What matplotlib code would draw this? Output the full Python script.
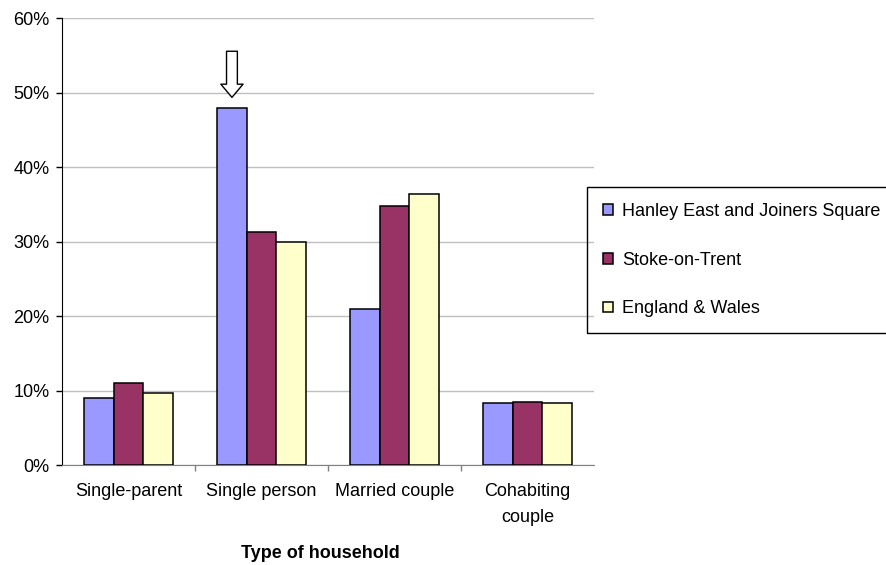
import numpy as np
import matplotlib; matplotlib.use("Agg")
import matplotlib.pyplot as plt
from matplotlib.patches import Rectangle
from matplotlib.ticker import PercentFormatter, FixedLocator

plt.rcParams["font.family"] = ["Liberation Sans", "DejaVu Sans"]

categories = ["Single-parent", "Single person", "Married couple", "Cohabiting\ncouple"]
series = ["Hanley East and Joiners Square", "Stoke-on-Trent", "England & Wales"]
hanley = [9.0, 48.0, 21.0, 8.3]
stoke = [11.0, 31.3, 34.8, 8.5]
england = [9.7, 30.0, 36.4, 8.3]
colors = ["#9999FF", "#993366", "#FFFFCC"]

W, H = 886, 565
FS = 13
fig = plt.figure(figsize=(W/100, H/100), dpi=100)
ax = fig.add_axes([62/W, 1-465/H, 532/W, 446.5/H])

x = np.arange(len(categories))
bw = 1/4.5
bars = []
for i, (vals, col, name) in enumerate(zip([hanley, stoke, england], colors, series)):
    b = ax.bar(x + (i-1)*bw, vals, bw, color=col, edgecolor="black", linewidth=1.1,
               label=name, zorder=3)
    bars.append(b)

# arrow pointing at the highlighted bar
hx = x[1] - bw
ax.annotate("", xy=(hx, hanley[1] + 1.4), xytext=(hx, hanley[1] + 7.6),
            arrowprops=dict(arrowstyle="simple,head_length=0.95,head_width=1.6,tail_width=0.78",
                            fc="white", ec="black", lw=1.0, shrinkA=0, shrinkB=0,
                            mutation_scale=10), zorder=5)

ax.set_xlim(-0.5, len(categories) - 0.5)
ax.set_ylim(0, 60)
ax.yaxis.set_major_locator(FixedLocator(np.arange(0, 61, 10)))
ax.yaxis.set_major_formatter(PercentFormatter(decimals=0))
ax.grid(axis="y", color="#c0c0c0", lw=1.0, zorder=0)
ax.set_axisbelow(True)

ax.set_xticks(x)
ax.set_xticklabels(categories, fontsize=FS, linespacing=1.65)
ax.set_xticks(np.arange(0.5, len(categories) - 0.5, 1), minor=True)
ax.tick_params(axis="x", which="major", length=0, pad=13)
ax.tick_params(axis="x", which="minor", length=4, color="#808080", width=1.0)
ax.tick_params(axis="y", length=4, width=1.0, pad=5, labelsize=FS, color="black")

for s in ["top", "right"]:
    ax.spines[s].set_visible(False)
ax.spines["bottom"].set_color("#808080")
ax.spines["left"].set_color("black")

ax.set_xlabel("Type of household", fontsize=FS, fontweight="bold")
ax.xaxis.set_label_coords((320-62)/532, -(553-465)/446.5)
ax.xaxis.label.set_va("center")

# legend box runs off the right edge of the figure, as in the original
fig.patches.append(Rectangle((587/W, 1-333/H), 320/W, 146/H, transform=fig.transFigure,
                             fill=False, ec="black", lw=1.0))
leg = fig.legend(handles=bars, labels=series, loc="upper left",
                 bbox_to_anchor=(587/W, 1-187/H), borderaxespad=0,
                 fontsize=FS, handlelength=0.55, handleheight=0.55, handletextpad=0.5,
                 labelspacing=1.75, borderpad=0.9, frameon=False)

fig.savefig("out.png", dpi=100)
